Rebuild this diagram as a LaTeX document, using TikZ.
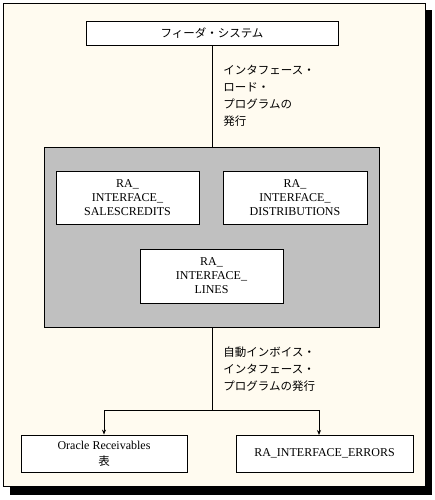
\documentclass[tikz,border=0pt]{standalone}
\usepackage{fontspec}
\setmainfont{Liberation Serif}
\newfontfamily\jp{Noto Sans CJK JP}
\usetikzlibrary{arrows.meta}
\definecolor{paper}{RGB}{255,251,240}
\definecolor{panel}{RGB}{192,192,192}
\begin{document}
\begin{tikzpicture}[x=1pt,y=-1pt,>={Stealth[length=5pt,width=4pt]},line width=0.8pt,
  tbl/.style = {draw, fill = white, align = center, font = \fontsize{12}{14}\selectfont, inner sep = 0pt},
  note/.style = {anchor = north west, align = left, inner sep = 0pt, font = \jp\fontsize{11.5}{17}\selectfont},]
\useasboundingbox (0,0) rectangle (434,500);
\fill[black] (10,10) rectangle (432,495);
\draw[fill = paper] (3,3) rectangle (425,486);
\node (feeder) at (212,33)[tbl, minimum width = 252, minimum height = 24] {\jp\fontsize{11.5}{14}\selectfont フィーダ・システム};
\node (area) at (212,237)[draw, fill = panel, minimum width = 335, minimum height = 180, inner sep = 0pt] {};
\node (sales) at (127.5,197.5)[tbl, minimum width = 143, minimum height = 53] {RA\_\\INTERFACE\_\\SALESCREDITS};
\node (dist) at (295,197.5)[tbl, minimum width = 144, minimum height = 53] {RA\_\\INTERFACE\_\\DISTRIBUTIONS};
\node (lines) at (211.5,276)[tbl, minimum width = 143, minimum height = 54] {RA\_\\INTERFACE\_\\LINES};
\node (recv) at (104,453.5)[tbl, minimum width = 166, minimum height = 37] {Oracle Receivables\\[2pt]{\jp\fontsize{11.5}{14}\selectfont 表}};
\node (errs) at (324.5,453.5)[tbl, minimum width = 177, minimum height = 37] {RA\_INTERFACE\_ERRORS};
\node (load) at (223,65)[note] {インタフェース・\\ロード・\\プログラムの\\発行};
\node (auto) at (223,346)[note] {自動インボイス・\\インタフェース・\\プログラムの発行};
\coordinate (split) at (212,410);
\coordinate (errin) at (319,435);
\draw (feeder)--(area);
\draw (area.south)--(split);
\draw[->] (split) -| (recv.north);
\draw[->] (split) -| (errin);
\end{tikzpicture}
\end{document}
